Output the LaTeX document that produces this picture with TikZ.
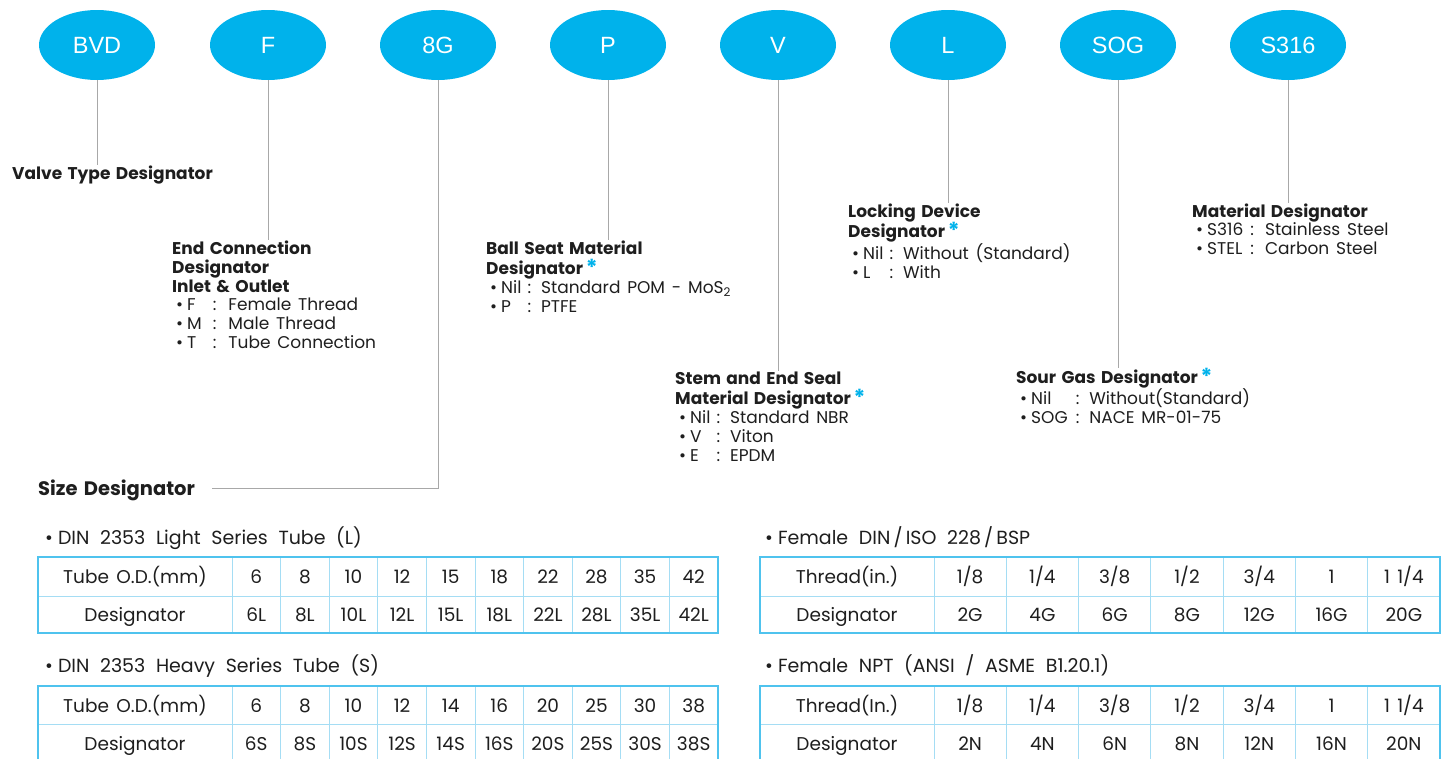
\documentclass[tikz,border=0pt]{standalone}
\usepackage{fontspec}
\setmainfont{Poppins}[WordSpace=1.5]
\newfontfamily\tfont{Poppins}[WordSpace=2.1]
\newfontfamily\arialf{Liberation Sans}
\usetikzlibrary{shapes.geometric}
\definecolor{pillblue}{HTML}{00B2EB}
\definecolor{tabblue}{HTML}{4FC3EE}
\definecolor{tabin}{HTML}{A5DDF4}
\definecolor{conngray}{HTML}{A8A8A8}
\definecolor{txt}{HTML}{1E1E1E}
\newcommand{\hd}[1]{\multicolumn{3}{@{}l@{}}{\bfseries #1}}
\newcommand{\bu}{\hspace{4pt}\textbullet\hspace{4pt}}
\newcommand{\tb}{\textbullet\hspace{5pt}}
\newcommand{\bstar}{\textcolor{pillblue}{\fontsize{22}{22}\selectfont\raisebox{-1pt}{*}}}
\begin{document}
\begin{tikzpicture}[x=1pt,y=-1pt,
  pill/.style={ellipse, fill=pillblue, minimum width=116pt, minimum height=70pt, inner sep=0pt, text=white, font=\arialf\fontsize{23.5}{26}\selectfont},
  conn/.style={draw=conngray, line width=1pt},
  blk/.style={anchor=base west, inner sep=0pt, text=txt, font=\fontsize{17}{18.8}\selectfont},
  ttl/.style={anchor=base west, inner sep=0pt, text=txt, font=\tfont\fontsize{19}{22}\selectfont},
  cell/.style={inner sep=0pt, text height=13pt, text depth=0pt, text=txt, font=\fontsize{18.5}{20}\selectfont},
  tout/.style={draw=tabblue, line width=2pt},
  tin/.style={draw=tabin, line width=0.8pt}]
\useasboundingbox (0,0) rectangle (1449,758);
% ellipses
\foreach \x/\t/\n in {97/BVD/bvd,268/F/f,438/8G/g8,608/P/p,778/V/v,948/L/l,1118/SOG/sog,1288/S316/s316}
  \node[pill] (\n) at (\x,45) {\t};
% description blocks
\node[blk] (vt) at (12,179) {\bfseries Valve Type Designator};
\node[blk] (ec) at (172,254) {\begin{tabular}[t]{@{}l@{\hspace{11pt}}l@{\hspace{12pt}}l@{}}
\hd{End Connection}\\ \hd{Designator}\\ \hd{Inlet \& Outlet}\\
\bu F & : & Female Thread\\ \bu M & : & Male Thread\\ \bu T & : & Tube Connection
\end{tabular}};
\node[blk] (bs) at (486,254) {\begin{tabular}[t]{@{}l@{\hspace{6pt}}l@{\hspace{10pt}}l@{}}
\hd{Ball Seat Material}\\ \hd{Designator\,\bstar}\\
\bu Nil & : & Standard POM - MoS\textsubscript{2}\\ \bu P & : & PTFE
\end{tabular}};
\node[blk] (st) at (675,384) {\begin{tabular}[t]{@{}l@{\hspace{6pt}}l@{\hspace{10pt}}l@{}}
\hd{Stem and End Seal}\\ \hd{Material Designator\,\bstar}\\
\bu Nil & : & Standard NBR\\ \bu V & : & Viton\\ \bu E & : & EPDM
\end{tabular}};
\node[blk] (lk) at (848,217) {\begin{tabular}[t]{@{}l@{\hspace{6pt}}l@{\hspace{10pt}}l@{}}
\hd{Locking Device}\\ \hd{Designator\,\bstar}\\
\bu Nil & : & Without (Standard)\\ \bu L & : & With
\end{tabular}};
\node[blk] (sg) at (1016,383) {\begin{tabular}[t]{@{}l@{\hspace{8pt}}l@{\hspace{10pt}}l@{}}
\hd{Sour Gas Designator\,\bstar}\\
\bu Nil & : & Without(Standard)\\ \bu SOG & : & NACE MR-01-75
\end{tabular}};
\node[blk] (md) at (1192,217) {\begin{tabular}[t]{@{}l@{\hspace{7pt}}l@{\hspace{11pt}}l@{}}
\hd{Material Designator}\\
\bu S316 & : & Stainless Steel\\ \bu STEL & : & Carbon Steel
\end{tabular}};
\node[blk, font=\fontsize{19.5}{22}\selectfont] (sz) at (38,495) {\bfseries Size Designator};
\coordinate (szend) at (212,488);
% connectors
\draw[conn] (bvd.south) -- (bvd.south |- vt.north);
\draw[conn] (f.south) -- (f.south |- ec.north);
\draw[conn] (p.south) -- (p.south |- bs.north);
\draw[conn] (v.south) -- (v.south |- st.north);
\draw[conn] (l.south) -- (l.south |- lk.north);
\draw[conn] (sog.south) -- (sog.south |- sg.north);
\draw[conn] (s316.south) -- (s316.south |- md.north);
\draw[conn] (g8.south) |- (szend);
% table titles
\node[ttl] (t1) at (45,544) {\tb DIN 2353 Light Series Tube (L)};
\node[ttl] (t2) at (45,672) {\tb DIN 2353 Heavy Series Tube (S)};
\node[ttl] (t3) at (765,544) {\tb Female DIN\,/\,ISO 228\,/\,BSP};
\node[ttl] (t4) at (765,672) {\tb Female NPT (ANSI / ASME B1.20.1)};
% light table
\draw[tin] (38,596) -- (718,596);
\foreach \i in {0,...,9} \draw[tin] ({232+48.6*\i},557) -- ({232+48.6*\i},633);
\draw[tout] (38,557) rectangle (718,633);
\node[cell] (lh) at (135,576.5) {Tube O.D.(mm)};
\node[cell] (ld) at (135,614.5) {Designator};
\foreach \v/\d [count=\i from 0] in {6/6L,8/8L,10/10L,12/12L,15/15L,18/18L,22/22L,28/28L,35/35L,42/42L}{
  \node[cell] (la\i) at ({256.3+48.6*\i},576.5) {\v};
  \node[cell] (lb\i) at ({256.3+48.6*\i},614.5) {\d};}
% heavy table
\draw[tin] (38,724) -- (718,724);
\foreach \i in {0,...,9} \draw[tin] ({232+48.6*\i},686) -- ({232+48.6*\i},762);
\draw[tout] (38,686) rectangle (718,762);
\node[cell] (hh) at (135,705.5) {Tube O.D.(mm)};
\node[cell] (hd) at (135,743.5) {Designator};
\foreach \v/\d [count=\i from 0] in {6/6S,8/8S,10/10S,12/12S,14/14S,16/16S,20/20S,25/25S,30/30S,38/38S}{
  \node[cell] (ha\i) at ({256.3+48.6*\i},705.5) {\v};
  \node[cell] (hb\i) at ({256.3+48.6*\i},743.5) {\d};}
% BSP table
\draw[tin] (760,596) -- (1440,596);
\foreach \i in {0,...,6} \draw[tin] ({934+72.29*\i},557) -- ({934+72.29*\i},633);
\draw[tout] (760,557) rectangle (1440,633);
\node[cell] (gh) at (847,576.5) {Thread(in.)};
\node[cell] (gd) at (847,614.5) {Designator};
\foreach \v/\d [count=\i from 0] in {{1/8}/2G,{1/4}/4G,{3/8}/6G,{1/2}/8G,{3/4}/12G,1/16G,{1 1/4}/20G}{
  \node[cell] (ga\i) at ({970.1+72.29*\i},576.5) {\v};
  \node[cell] (gb\i) at ({970.1+72.29*\i},614.5) {\d};}
% NPT table
\draw[tin] (760,724) -- (1440,724);
\foreach \i in {0,...,6} \draw[tin] ({934+72.29*\i},686) -- ({934+72.29*\i},762);
\draw[tout] (760,686) rectangle (1440,762);
\node[cell] (nh) at (847,705.5) {Thread(In.)};
\node[cell] (nd) at (847,743.5) {Designator};
\foreach \v/\d [count=\i from 0] in {{1/8}/2N,{1/4}/4N,{3/8}/6N,{1/2}/8N,{3/4}/12N,1/16N,{1 1/4}/20N}{
  \node[cell] (na\i) at ({970.1+72.29*\i},705.5) {\v};
  \node[cell] (nb\i) at ({970.1+72.29*\i},743.5) {\d};}
\end{tikzpicture}
\end{document}
